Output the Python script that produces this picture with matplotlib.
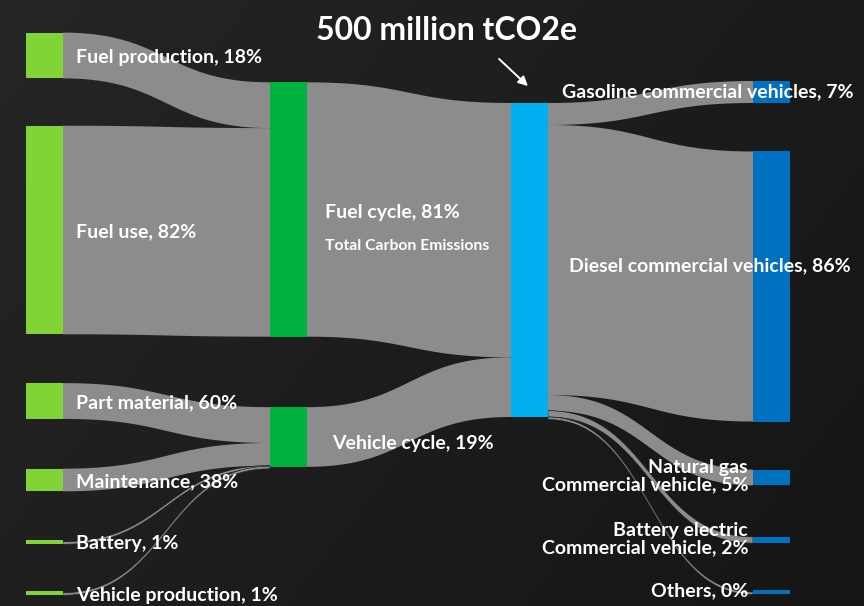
import numpy as np
import matplotlib
matplotlib.use("Agg")
import matplotlib.pyplot as plt
from matplotlib.patches import Polygon, Rectangle
from matplotlib.colors import LinearSegmentedColormap

# ---- data -------------------------------------------------------------
total_emissions = 500  # million tCO2e
title_text = "500 million tCO2e"

cycle_names = ["Fuel cycle", "Vehicle cycle"]
cycle_shares = [81, 19]  # % of total

fuel_sources = ["Fuel production", "Fuel use"]
fuel_shares = [18, 82]  # % of fuel cycle

vehicle_sources = ["Part material", "Maintenance", "Battery", "Vehicle production"]
vehicle_shares = [60, 38, 1, 1]  # % of vehicle cycle

vehicle_types = ["Gasoline commercial vehicles", "Diesel commercial vehicles",
                 "Natural gas\nCommercial vehicle", "Battery electric\nCommercial vehicle",
                 "Others"]
type_shares = [7, 86, 5, 2, 0]  # % of total

# ---- figure -----------------------------------------------------------
W, H = 864, 606
fig = plt.figure(figsize=(W / 100, H / 100), dpi=100)
ax = fig.add_axes([0, 0, 1, 1])
ax.set_xlim(0, W)
ax.set_ylim(H, 0)
ax.axis("off")

# dark background, slightly lighter toward the upper left
gx = np.linspace(0, 1, 300)
gy = np.linspace(0, 1, 200)
GX, GY = np.meshgrid(gx, gy)
shade = 0.65 * GX + 0.35 * GY
bg_cmap = LinearSegmentedColormap.from_list("bg", ["#252525", "#151515"])
ax.imshow(shade, cmap=bg_cmap, extent=[0, W, H, 0], aspect="auto", zorder=0,
          interpolation="bilinear")

FONT = "Lato"
BG_EDGE = "#1c1c1c"
LINK = "#8c8c8c"
C_SRC = "#80d435"
C_CYC = "#00b140"
C_TOT = "#00b0f0"
C_TYP = "#0070c0"

scale = 314 / total_emissions  # px per million tCO2e
MIN_LINK = 2.6
MIN_NODE = 3.5
NW = 37
col_x = [26, 270, 511, 753]

cycle_vals = [total_emissions * s / 100 for s in cycle_shares]
fuel_vals = [cycle_vals[0] * s / 100 for s in fuel_shares]
veh_vals = [cycle_vals[1] * s / 100 for s in vehicle_shares]
type_vals = [total_emissions * s / 100 for s in type_shares]


def node(x, yc, value, color):
    h = max(value * scale, MIN_NODE)
    ax.add_patch(Rectangle((x, yc - h / 2), NW, h, color=color, lw=0, zorder=3))
    return yc - value * scale / 2  # top of the stacked flow area


def bez(p0, p1, t):
    xm = (p0[0] + p1[0]) / 2
    x = (1 - t) ** 3 * p0[0] + 3 * (1 - t) ** 2 * t * xm + 3 * (1 - t) * t ** 2 * xm + t ** 3 * p1[0]
    y = (1 - t) ** 3 * p0[1] + 3 * (1 - t) ** 2 * t * p0[1] + 3 * (1 - t) * t ** 2 * p1[1] + t ** 3 * p1[1]
    return x, y


def link(x0, y0, x1, y1, value):
    w = max(value * scale, MIN_LINK)
    t = np.linspace(0, 1, 120)
    tx, ty = bez((x0, y0), (x1, y1), t)
    bx, by = bez((x0, y0 + w), (x1, y1 + w), t)
    pts = np.column_stack([np.r_[tx, bx[::-1]], np.r_[ty, by[::-1]]])
    thin = w < 8
    ax.add_patch(Polygon(pts, closed=True, facecolor=LINK,
                         edgecolor=BG_EDGE if thin else "none",
                         lw=0.45 if thin else 0, zorder=2.5 if thin else 2))


# node centres per column
src_centres = [55.5, 230, 401, 480, 542, 593]
cyc_centres = [209.5, 437]
tot_centre = 260
typ_centres = [92, 286.5, 477.5, 540, 592]

src_vals = fuel_vals + veh_vals
src_tops = [node(col_x[0], c, v, C_SRC) for c, v in zip(src_centres, src_vals)]
cyc_tops = [node(col_x[1], c, v, C_CYC) for c, v in zip(cyc_centres, cycle_vals)]
tot_top = node(col_x[2], tot_centre, total_emissions, C_TOT)
typ_tops = [node(col_x[3], c, v, C_TYP) for c, v in zip(typ_centres, type_vals)]

# sources -> cycles
groups = [(0, fuel_vals, 0), (1, veh_vals, 2)]
for ci, vals, offset in groups:
    y_in = cyc_tops[ci]
    for k, v in enumerate(vals):
        link(col_x[0] + NW, src_tops[offset + k], col_x[1], y_in, v)
        y_in += v * scale

# cycles -> total
y_in = tot_top
for ci, v in enumerate(cycle_vals):
    link(col_x[1] + NW, cyc_tops[ci], col_x[2], y_in, v)
    y_in += v * scale

# total -> vehicle types
y_out = tot_top
for k, v in enumerate(type_vals):
    link(col_x[2] + NW, y_out, col_x[3], typ_tops[k], v)
    y_out += v * scale

# ---- labels -----------------------------------------------------------
lab = dict(color="white", fontsize=14, fontweight="bold", family=FONT, zorder=5,
           va="center")

for name, share, yc in zip(fuel_sources + vehicle_sources,
                           fuel_shares + vehicle_shares, src_centres):
    ax.text(col_x[0] + NW + 13, yc + 2, f"{name}, {share}%", ha="left", **lab)

ax.text(col_x[1] + NW + 18, cyc_centres[0] + 3, f"{cycle_names[0]}, {cycle_shares[0]}%",
        ha="left", **lab)
ax.text(col_x[1] + NW + 18, cyc_centres[0] + 36, "Total Carbon Emissions", ha="left",
        color="white", fontsize=11.3, fontweight="bold", family=FONT, va="center", zorder=5)
ax.text(col_x[1] + NW + 25, cyc_centres[1] + 6, f"{cycle_names[1]}, {cycle_shares[1]}%",
        ha="left", **lab)

ax.text(col_x[2] + NW + 14, typ_centres[0], f"{vehicle_types[0]}, {type_shares[0]}%",
        ha="left", **lab)
ax.text(col_x[2] + NW + 21, typ_centres[1] - 21, f"{vehicle_types[1]}, {type_shares[1]}%",
        ha="left", **lab)
for name, share, yc in zip(vehicle_types[2:], type_shares[2:], typ_centres[2:]):
    ax.text(col_x[3] - 5, yc - 1, f"{name}, {share}%", ha="right", multialignment="right",
            linespacing=1.0, **lab)

ax.text(446, 30, title_text, ha="center", va="center", color="white", fontsize=23,
        fontweight="bold", family=FONT, zorder=5)
ax.annotate("", xy=(530, 88), xytext=(497, 57), zorder=5,
            arrowprops=dict(arrowstyle="-|>", color="white", lw=1.4, mutation_scale=14))

fig.savefig("out.png", dpi=100)
